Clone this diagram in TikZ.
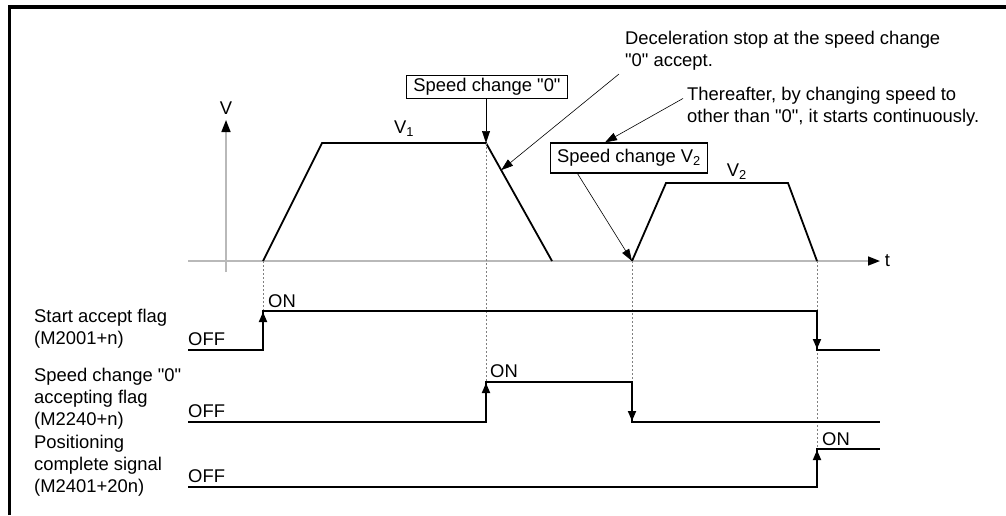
\documentclass[tikz,border=0pt]{standalone}
\usepackage{fontspec}
\setmainfont{Liberation Sans}
\usetikzlibrary{arrows.meta, calc}
\newcommand{\qd}{\textquotedbl}

\begin{document}
\begin{tikzpicture}[x=1pt, y=-1pt,
    every node/.style={font=\fontsize{18.4}{22}\selectfont, inner sep=0pt},
    axis/.style={line width=1.6pt, gray!55, -{Triangle[length=12pt, width=9pt, black]}},
    profile/.style={line width=1.8pt},
    signal/.style={line width=1.8pt},
    flip/.style={line width=1.8pt, -{Triangle[length=10pt, width=8pt]}},
    guide/.style={gray, line width=0.8pt, dash pattern=on 2pt off 2pt},
    leader/.style={line width=0.6pt, -{Triangle[length=12pt, width=8pt]}},
    callout/.style={draw, line width=1.2pt, inner xsep=7pt, minimum height=23pt}]
  \useasboundingbox (0, 0) rectangle (1006, 515);
  \draw[line width=3.5pt] (9.5, 515) -- (9.5, 7) -- (1006, 7);

  \coordinate (A) at (263, 261);
  \coordinate (B) at (322, 143);
  \coordinate (C) at (486, 143);
  \coordinate (D) at (552, 261);
  \coordinate (E) at (632, 261);
  \coordinate (F) at (666, 183);
  \coordinate (G) at (788, 183);
  \coordinate (H) at (817, 261);

  \draw[axis] (188, 261) -- (880, 261) node[right=4pt, black] {t};
  \draw[axis] (226, 272) -- (226, 120) node[above=5pt, black] {V};

  \draw[profile] (A) -- (B) -- node[above=6pt] {V\textsubscript{1}} (C) -- (D);
  \draw[profile] (E) -- (F) -- node[pos=0.58, above=3pt] {V\textsubscript{2}} (G) -- (H);

  \node[callout] (zero) at (487, 87) {Speed change \qd0\qd};
  \node[callout, minimum height=30pt] (vtwo) at (629, 158) {Speed change V\textsubscript{2}};
  \node[anchor=base west, align=left] (decel) at (625, 66)
    {Deceleration stop at the speed change\\\qd0\qd{} accept.};
  \node[anchor=base west, align=left] (after) at (687, 122)
    {Thereafter, by changing speed to\\other than \qd0\qd, it starts continuously.};

  \draw[leader] (zero.south -| C) -- (C);
  \draw[leader] ([shift={(-6pt, -4pt)}]decel.south west) -- ($(C)!0.23!(D)$);
  \draw[leader] ([shift={(-4pt, -12pt)}]after.north west) -- ([xshift=-24pt]vtwo.north);
  \draw[leader] ([xshift=28pt]vtwo.south west) -- (E);

  % dotted time marks
  \draw[guide] (A) -- (263, 311);
  \draw[guide] (C) -- (486, 382);
  \draw[guide] (E) -- (632, 422);
  \draw[guide] (H) -- (817, 449);

  % start accept flag
  \draw[signal] (188, 350) -- (263, 350) -- (263, 311) -- (817, 311) -- (817, 350) -- (880, 350);
  \draw[flip] (263, 332) -- (263, 312);
  \draw[flip] (817, 328) -- (817, 349);
  \node[anchor=base west, align=left] at (34, 344) {Start accept flag\\(M2001+n)};
  \node[anchor=base west] at (188, 345) {OFF};
  \node[anchor=base west] at (268, 307) {ON};

  % speed change "0" accepting flag
  \draw[signal] (188, 422) -- (486, 422) -- (486, 382) -- (632, 382) -- (632, 422) -- (880, 422);
  \draw[flip] (486, 402) -- (486, 383);
  \draw[flip] (632, 400) -- (632, 421);
  \node[anchor=base west, align=left] at (34, 425) {Speed change \qd0\qd\\accepting flag\\(M2240+n)};
  \node[anchor=base west] at (188, 417) {OFF};
  \node[anchor=base west] at (490, 377) {ON};

  % positioning complete signal
  \draw[signal] (188, 487) -- (817, 487) -- (817, 449) -- (880, 449);
  \draw[flip] (817, 468) -- (817, 450);
  \node[anchor=base west, align=left] at (34, 492) {Positioning\\complete signal\\(M2401+20n)};
  \node[anchor=base west] at (188, 482) {OFF};
  \node[anchor=base west] at (822, 445) {ON};
\end{tikzpicture}
\end{document}
